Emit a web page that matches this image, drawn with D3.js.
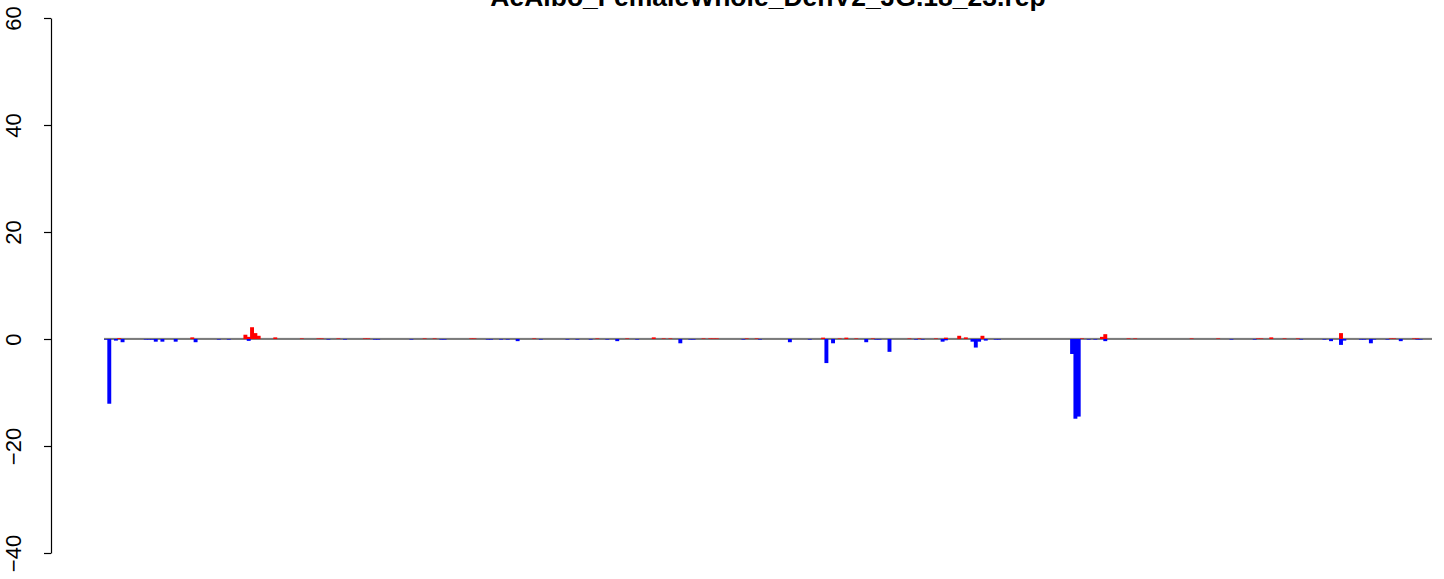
<!DOCTYPE html>
<html>
<head>
<meta charset="utf-8">
<script src="https://cdn.jsdelivr.net/npm/d3@7"></script>
<style>
  html, body { margin: 0; padding: 0; background: #fff; }
  svg { display: block; }
</style>
</head>
<body>
<svg id="chart" width="1444" height="579"></svg>
<script>
// ---- data ----
const chartTitle = "AeAlbo_FemaleWhole_DenV2_JG.18_23.rep";
const barCount = 400;
const yTicks = [-40, -20, 0, 20, 40, 60];

// red (positive) bars: position index and value
const upIndex = [4, 26, 42, 43, 44, 45, 46, 51, 59, 64, 65, 70, 78, 79, 96, 99, 110, 111, 129, 148, 157, 165, 168, 170, 180, 182, 183, 184, 193, 196, 216, 221, 223, 226, 231, 242, 245, 250, 253, 257, 259, 264, 294, 300, 301, 308, 310, 327, 335, 347, 348, 351, 355, 359, 372, 387, 388, 394, 395];
const upValue = [0.15, 0.3, 0.8, 0.4, 2.2, 1.1, 0.6, 0.3, 0.1, 0.1, 0.1, 0.1, 0.1, 0.1, 0.1, 0.1, 0.1, 0.1, 0.1, 0.1, 0.1, 0.3, 0.1, 0.1, 0.1, 0.1, 0.1, 0.1, 0.1, 0.1, 0.25, 0.1, 0.25, 0.1, 0.1, 0.1, 0.1, 0.1, 0.25, 0.6, 0.3, 0.6, 0.1, 0.4, 0.9, 0.1, 0.1, 0.1, 0.1, 0.1, 0.1, 0.3, 0.1, 0.1, 1.1, 0.1, 0.1, 0.1, 0.1];

// blue (negative) bars: position index and value
const downIndex = [0, 1, 3, 5, 12, 13, 14, 15, 17, 21, 27, 34, 37, 43, 67, 72, 81, 82, 92, 101, 102, 115, 116, 119, 121, 124, 131, 139, 142, 146, 151, 154, 160, 173, 176, 177, 192, 197, 206, 212, 217, 219, 229, 232, 233, 236, 244, 246, 252, 253, 261, 262, 263, 265, 268, 269, 291, 292, 293, 296, 298, 301, 339, 346, 360, 367, 369, 372, 373, 378, 379, 381, 382, 386, 390, 395, 396];
const downValue = [-0.1, -12.1, -0.3, -0.6, -0.1, -0.1, -0.1, -0.5, -0.5, -0.5, -0.6, -0.1, -0.1, -0.35, -0.1, -0.1, -0.1, -0.1, -0.1, -0.1, -0.1, -0.1, -0.1, -0.1, -0.1, -0.4, -0.1, -0.1, -0.1, -0.1, -0.1, -0.4, -0.1, -0.8, -0.1, -0.1, -0.1, -0.1, -0.6, -0.1, -4.5, -0.8, -0.6, -0.1, -0.1, -2.4, -0.1, -0.1, -0.5, -0.25, -0.5, -1.6, -0.5, -0.3, -0.1, -0.1, -2.8, -14.9, -14.5, -0.1, -0.1, -0.4, -0.1, -0.1, -0.1, -0.1, -0.4, -1.1, -0.3, -0.1, -0.1, -0.8, -0.1, -0.1, -0.4, -0.1, -0.1];

// ---- drawing ----
const svg = d3.select("#chart");
const plotLeft = 104, plotRight = 1432;

const x = d3.scaleBand()
  .domain(d3.range(barCount))
  .range([plotLeft, plotRight])
  .padding(0);

const y = d3.scaleLinear().domain([-40, 60]).range([553, 18]);

// title (partly above the top edge, as in the reference)
svg.append("text")
  .attr("x", 768)
  .attr("y", 6)
  .attr("text-anchor", "middle")
  .style("font-family", "Liberation Sans, Arial, sans-serif")
  .style("font-weight", "bold")
  .style("font-size", "26.5px")
  .text(chartTitle);

// y axis
const yAxis = d3.axisLeft(y)
  .tickValues(yTicks)
  .tickSize(7)
  .tickSizeOuter(0)
  .tickFormat(d => d < 0 ? "\u2212" + Math.abs(d) : String(d));

const gAxis = svg.append("g")
  .attr("transform", "translate(51,0)")
  .call(yAxis);
gAxis.select(".domain").attr("stroke", "#000").attr("stroke-width", 1.2);
gAxis.selectAll(".tick line").attr("stroke", "#000").attr("stroke-width", 1.2);
gAxis.selectAll(".tick text")
  .attr("x", null).attr("dy", null)
  .attr("transform", "translate(-30,0) rotate(-90)")
  .attr("text-anchor", "middle")
  .attr("fill", "#000")
  .style("font-family", "Liberation Sans, Arial, sans-serif")
  .style("font-size", "22px");

// baseline band
const y0 = y(0);
svg.append("line")
  .attr("x1", plotLeft).attr("x2", plotRight)
  .attr("y1", y0 - 1).attr("y2", y0 - 1)
  .attr("stroke", "#e0e0e0").attr("stroke-width", 1);
svg.append("line")
  .attr("x1", plotLeft).attr("x2", plotRight)
  .attr("y1", y0).attr("y2", y0)
  .attr("stroke", "#555").attr("stroke-width", 1.3);

const upData = upIndex.map((i, k) => ({ i, v: upValue[k] }));
const downData = downIndex.map((i, k) => ({ i, v: downValue[k] }));
const barW = x.bandwidth() + 0.6;

svg.append("g").selectAll("rect")
  .data(upData)
  .join("rect")
  .attr("x", d => x(d.i))
  .attr("width", barW)
  .attr("y", d => y(d.v))
  .attr("height", d => y(0) - y(d.v))
  .attr("fill", "#ff0000");

svg.append("g").selectAll("rect")
  .data(downData)
  .join("rect")
  .attr("x", d => x(d.i))
  .attr("width", barW)
  .attr("y", y(0))
  .attr("height", d => y(d.v) - y(0))
  .attr("fill", "#0000ff");
</script>
</body>
</html>
